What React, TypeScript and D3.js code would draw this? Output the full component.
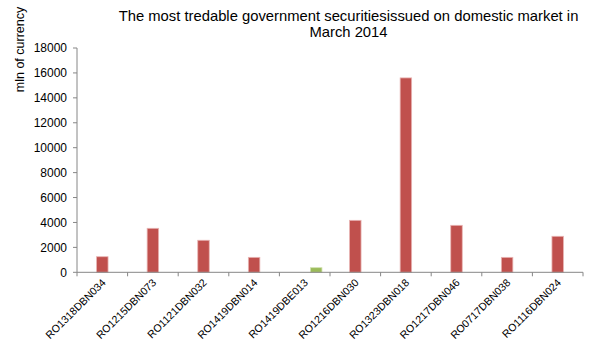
import React from "react";
import * as d3 from "d3";

const categories = [
  "RO1318DBN034",
  "RO1215DBN073",
  "RO1121DBN032",
  "RO1419DBN014",
  "RO1419DBE013",
  "RO1216DBN030",
  "RO1323DBN018",
  "RO1217DBN046",
  "RO0717DBN038",
  "RO1116DBN024",
];
const seriesRON = [1250, 3530, 2570, 1200, 0, 4170, 15600, 3770, 1200, 2890];
const seriesEUR = [0, 0, 0, 0, 370, 0, 0, 0, 0, 0];
const yTicks = [0, 2000, 4000, 6000, 8000, 10000, 12000, 14000, 16000, 18000];
const titleLines = [
  "The most tredable government securitiesissued on domestic market in",
  "March 2014",
];
const yTitle = "mln of currency";

export default function App() {
  const W = 600, H = 341;
  const left = 77, right = 583, top = 48, bottom = 272.3;
  const x = d3.scaleBand<string>().domain(categories).range([left, right]).padding(0);
  const y = d3.scaleLinear().domain([0, 18000]).range([bottom, top]);
  const bw = 11.5;
  const axisColor = "#868686";
  const font = "Liberation Sans, Arial, sans-serif";
  return (
    <svg width={W} height={H} style={{ position: "absolute", left: 0, top: 0 }} fontFamily={font}>
      <rect width={W} height={H} fill="#fff" />
      {titleLines.map((t, i) => (
        <text key={i} x={348.5} y={20.5 + i * 16.5} textAnchor="middle" fontSize={14.8} fill="#000">
          {t}
        </text>
      ))}
      <text
        transform={`translate(24,49.5) rotate(-90)`}
        textAnchor="middle"
        fontSize={12.5}
        fill="#000"
      >
        {yTitle}
      </text>
      {/* y axis */}
      <line x1={left} x2={left} y1={top} y2={bottom} stroke={axisColor} />
      {yTicks.map((t) => (
        <g key={t}>
          <line x1={left - 4} x2={left} y1={y(t)} y2={y(t)} stroke={axisColor} />
          <text x={67} y={y(t)} dy="0.35em" textAnchor="end" fontSize={12} fill="#000">
            {t}
          </text>
        </g>
      ))}
      {/* bars */}
      {categories.map((c, i) => {
        const cx = (x(c) as number) + x.bandwidth() / 2;
        return (
          <g key={c}>
            {seriesRON[i] > 0 && (
              <rect
                x={cx - bw / 2}
                y={y(seriesRON[i])}
                width={bw}
                height={bottom - y(seriesRON[i])}
                fill="#C0504D"
                stroke="#E8B4B3"
                strokeWidth={0.8}
              />
            )}
            {seriesEUR[i] > 0 && (
              <rect
                x={cx + bw / 2}
                y={y(seriesEUR[i])}
                width={bw}
                height={bottom - y(seriesEUR[i])}
                fill="#9BBB59"
                stroke="#D0E0B0"
                strokeWidth={0.8}
              />
            )}
          </g>
        );
      })}
      {/* x axis */}
      <line x1={left} x2={right} y1={bottom} y2={bottom} stroke={axisColor} />
      {[...categories.map((c) => x(c) as number), right].map((t, i) => (
        <line key={i} x1={t} x2={t} y1={bottom} y2={bottom + 4} stroke={axisColor} />
      ))}
      {categories.map((c) => {
        const cx = (x(c) as number) + x.bandwidth() / 2;
        return (
          <text
            key={c}
            transform={`translate(${cx + 4},${bottom + 11}) rotate(-45)`}
            textAnchor="end"
            fontSize={10.6}
            fill="#000"
          >
            {c}
          </text>
        );
      })}
    </svg>
  );
}
